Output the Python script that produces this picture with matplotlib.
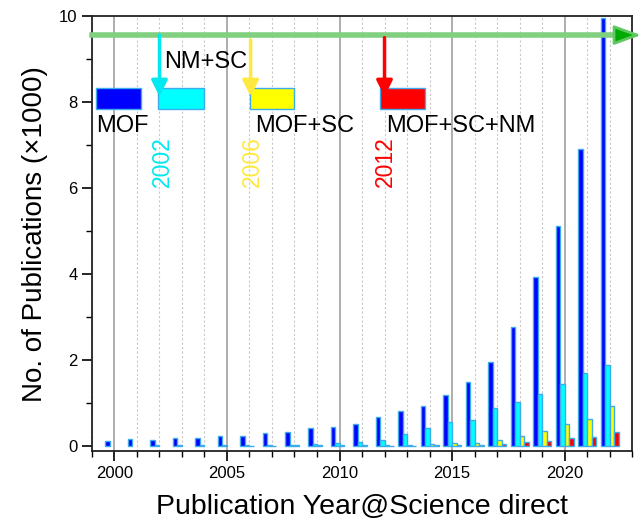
import numpy as np
import matplotlib
matplotlib.use("Agg")
import matplotlib.pyplot as plt
from matplotlib.patches import Rectangle
from matplotlib.ticker import MultipleLocator

plt.rcParams['font.family'] = ['Liberation Sans', 'DejaVu Sans']

years = np.arange(2000, 2023)
# publications (x1000)
mof = [0.12, 0.16, 0.14, 0.18, 0.18, 0.23, 0.23, 0.31, 0.32, 0.42, 0.45, 0.51,
       0.66, 0.82, 0.92, 1.19, 1.48, 1.96, 2.76, 3.92, 5.12, 6.92, 9.95]
nm_sc = [0, 0, 0.01, 0.02, 0.02, 0.02, 0.03, 0.03, 0.03, 0.05, 0.06, 0.09,
         0.14, 0.27, 0.42, 0.56, 0.60, 0.87, 1.01, 1.21, 1.45, 1.69, 1.88]
mof_sc = [0, 0, 0, 0, 0, 0, 0.005, 0.005, 0.01, 0.01, 0.01, 0.01,
          0.01, 0.02, 0.04, 0.06, 0.07, 0.13, 0.23, 0.35, 0.50, 0.63, 0.92]
mof_sc_nm = [0, 0, 0, 0, 0, 0, 0, 0, 0, 0, 0, 0,
             0.005, 0.005, 0.01, 0.01, 0.02, 0.05, 0.08, 0.12, 0.19, 0.21, 0.33]

series = [mof, nm_sc, mof_sc, mof_sc_nm]
colors = ["#0000ff", "#00ffff", "#ffff00", "#ff0000"]
names = ["MOF", "NM+SC", "MOF+SC", "MOF+SC+NM"]
start_years = ["2002", "2006", "2012"]
edge = "#3cacea"

fig = plt.figure(figsize=(6.41, 5.22), dpi=100)
ax = fig.add_axes([0.1435, 0.136, 0.8425, 0.833])

w = 0.2
for i, (vals, c) in enumerate(zip(series, colors)):
    v = np.array(vals)
    m = v > 0
    ax.bar(years[m] + (i - 1.5) * w, v[m], width=w, color=c, edgecolor=edge,
           linewidth=1, zorder=3)

ax.set_xlim(1999, 2023)
ax.set_ylim(-0.12, 10)
ax.xaxis.set_major_locator(MultipleLocator(5))
ax.xaxis.set_minor_locator(MultipleLocator(1))
ax.yaxis.set_major_locator(MultipleLocator(2))
ax.yaxis.set_minor_locator(MultipleLocator(1))
ax.grid(axis='x', which='major', color='#a0a0a0', lw=1.2, zorder=0)
ax.grid(axis='x', which='minor', color='#c8c8c8', lw=0.8, ls=(0, (2, 2)), zorder=0)
ax.tick_params(which='major', direction='out', length=7, width=1.2, labelsize=12)
ax.tick_params(which='minor', direction='out', length=4, width=1.0)
for s in ax.spines.values():
    s.set_linewidth(1.3)
    s.set_color('#222222')

ax.set_xlabel("Publication Year@Science direct", fontsize=20.5, labelpad=10)
ax.set_ylabel("No. of Publications (\u00d71000)", fontsize=20, labelpad=8)

# green time arrow
ax.plot([1999, 2022.8], [9.56, 9.56], color='#80d080', lw=4, clip_on=False, zorder=4)
ax.annotate('', xy=(2023.4, 9.56), xytext=(2022.6, 9.56),
            arrowprops=dict(arrowstyle='-|>,head_length=0.55,head_width=0.2',
                            mutation_scale=30, lw=2,
                            fc='#00aa00', ec='#60c860', shrinkA=0, shrinkB=0),
            annotation_clip=False, zorder=5)

# legend boxes
boxes = [(1999.19, 2001.18), (2001.95, 2003.97), (2006.01, 2007.99), (2011.8, 2013.8)]
for (x0, x1), c in zip(boxes, colors):
    ax.add_patch(Rectangle((x0, 7.83), x1 - x0, 0.51, fc=c, ec=edge, lw=1, zorder=5))

# start arrows
arrows = [(2002.0, 9.56, "#00e8f0"), (2006.05, 9.45, "#ffe840"), (2012.0, 9.50, "#ff0000")]
for x, y0, c in arrows:
    ax.annotate('', xy=(x, 8.13), xytext=(x, y0),
                arrowprops=dict(arrowstyle='-|>', mutation_scale=24, lw=2.5,
                                color=c, shrinkA=0, shrinkB=0), zorder=6)

ax.text(1999.17, 7.30, names[0], fontsize=17, zorder=7)
ax.text(2002.2, 8.79, names[1], fontsize=17, zorder=7)
ax.text(2006.24, 7.30, names[2], fontsize=17, zorder=7)
ax.text(2012.09, 7.30, names[3], fontsize=17, zorder=7)

for x, lab, c in zip([2002.12, 2006.13, 2012.03], start_years, ["#00e8f0", "#ffe840", "#ff0000"]):
    ax.text(x, 6.62, lab, color=c, fontsize=16.5, rotation=90, ha='center', va='center', zorder=7)

fig.savefig("out.png", dpi=100)
